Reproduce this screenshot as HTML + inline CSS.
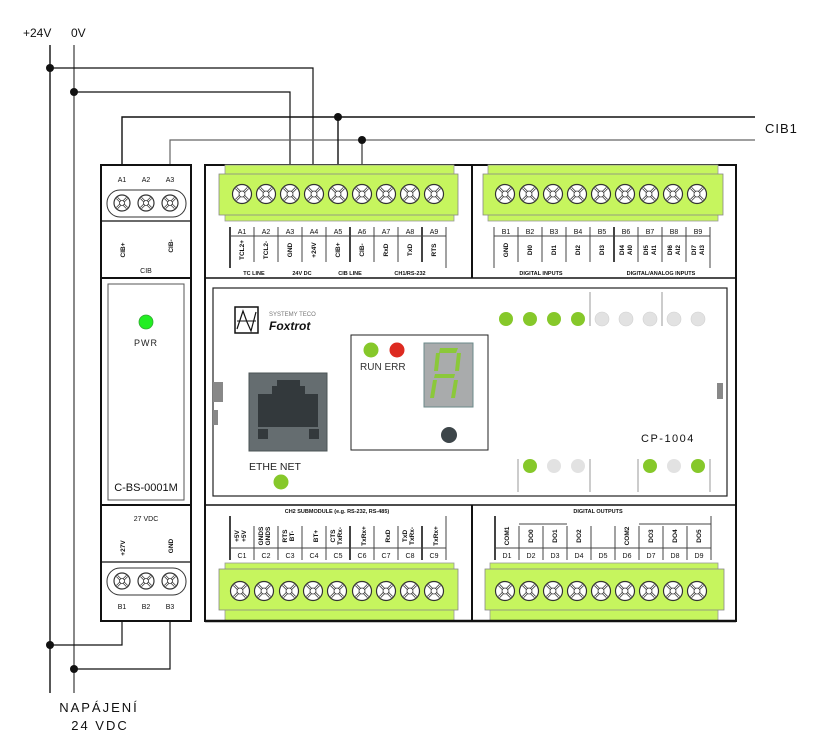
<!DOCTYPE html>
<html><head><meta charset="utf-8"><style>
html,body{margin:0;padding:0;background:#fff;}
svg{display:block;font-family:"Liberation Sans",sans-serif;}
.s{font-size:7px;fill:#111;}
.v{font-size:6.5px;fill:#111;font-weight:bold;}
</style></head><body>
<svg width="825" height="756" viewBox="0 0 825 756" xmlns="http://www.w3.org/2000/svg">
<defs>
<g id="sc"><circle r="9.5" fill="#fff" stroke="#333" stroke-width="1.2"/><path d="M-6,-6L6,6M6,-6L-6,6" stroke="#333" stroke-width="2.6"/><path d="M-6,-6L6,6M6,-6L-6,6" stroke="#fff" stroke-width="1"/><circle r="3" fill="#fff" stroke="#333" stroke-width="0.8"/></g>
<g id="sm"><circle r="8" fill="#fff" stroke="#333" stroke-width="1.2"/><path d="M-5,-5L5,5M5,-5L-5,5" stroke="#333" stroke-width="2.4"/><path d="M-5,-5L5,5M5,-5L-5,5" stroke="#fff" stroke-width="0.9"/><circle r="2.5" fill="#fff" stroke="#333" stroke-width="0.8"/></g>
</defs>
<!-- power labels and rails -->
<text x="23" y="37" font-size="12" fill="#111">+24V</text>
<text x="71" y="37" font-size="12" fill="#111">0V</text>
<line x1="50" y1="45" x2="50" y2="693" stroke="#111" stroke-width="1.4"/>
<line x1="74" y1="45" x2="74" y2="693" stroke="#111" stroke-width="1"/>
<polyline points="50,68 313,68 313,165" fill="none" stroke="#111" stroke-width="1.2"/>
<polyline points="74,92 290,92 290,165" fill="none" stroke="#111" stroke-width="1.2"/>
<polyline points="122,165 122,117 755,117" fill="none" stroke="#111" stroke-width="1.4"/>
<polyline points="170,165 170,140 755,140" fill="none" stroke="#666" stroke-width="1.2"/>
<line x1="338" y1="117" x2="338" y2="165" stroke="#111" stroke-width="1.4"/>
<line x1="362" y1="140" x2="362" y2="165" stroke="#333" stroke-width="1.2"/>
<circle cx="50" cy="68" r="4" fill="#111"/><circle cx="74" cy="92" r="4" fill="#111"/>
<circle cx="338" cy="117" r="4" fill="#111"/><circle cx="362" cy="140" r="4" fill="#111"/>
<text x="765" y="133" font-size="13" fill="#111" letter-spacing="1">CIB1</text>
<polyline points="122,621 122,645 50,645" fill="none" stroke="#111" stroke-width="1.2"/>
<polyline points="170,621 170,669 74,669" fill="none" stroke="#111" stroke-width="1.2"/>
<circle cx="50" cy="645" r="4" fill="#111"/><circle cx="74" cy="669" r="4" fill="#111"/>
<text x="99" y="712" font-size="13" fill="#111" text-anchor="middle" letter-spacing="2">NAPÁJENÍ</text>
<text x="100" y="730" font-size="13" fill="#111" text-anchor="middle" letter-spacing="2">24 VDC</text>

<!-- CIB module -->
<rect x="101" y="165" width="90" height="456" fill="#fff" stroke="#111" stroke-width="2"/>
<text class="s" x="122" y="182" text-anchor="middle">A1</text><text class="s" x="146" y="182" text-anchor="middle">A2</text><text class="s" x="170" y="182" text-anchor="middle">A3</text>
<rect x="107" y="190" width="79" height="27" rx="13" fill="#fff" stroke="#333"/>
<use href="#sm" x="122" y="203"/><use href="#sm" x="146" y="203"/><use href="#sm" x="170" y="203"/>
<line x1="101" y1="221" x2="191" y2="221" stroke="#111" stroke-width="1.2"/>
<text class="v" transform="translate(125,250) rotate(-90)" text-anchor="middle">CIB+</text>
<text class="v" transform="translate(173,246) rotate(-90)" text-anchor="middle">CIB-</text>
<text class="s" x="146" y="273" text-anchor="middle">CIB</text>
<line x1="101" y1="278" x2="191" y2="278" stroke="#111" stroke-width="2"/>
<rect x="108" y="284" width="76" height="216" fill="#fff" stroke="#555"/>
<circle cx="146" cy="322" r="7" fill="#22ee22" stroke="#3a3" stroke-width="0.8"/>
<text x="146" y="346" font-size="9" fill="#222" text-anchor="middle" letter-spacing="1">PWR</text>
<text x="146" y="491" font-size="11" fill="#111" text-anchor="middle">C-BS-0001M</text>
<line x1="101" y1="505" x2="191" y2="505" stroke="#111" stroke-width="2"/>
<text class="s" x="146" y="521" text-anchor="middle">27 VDC</text>
<text class="v" transform="translate(125,548) rotate(-90)" text-anchor="middle">+27V</text>
<text class="v" transform="translate(173,546) rotate(-90)" text-anchor="middle">GND</text>
<line x1="101" y1="562" x2="191" y2="562" stroke="#111" stroke-width="1.2"/>
<rect x="107" y="568" width="79" height="27" rx="13" fill="#fff" stroke="#333"/>
<use href="#sm" x="122" y="581"/><use href="#sm" x="146" y="581"/><use href="#sm" x="170" y="581"/>
<text class="s" x="122" y="609" text-anchor="middle">B1</text><text class="s" x="146" y="609" text-anchor="middle">B2</text><text class="s" x="170" y="609" text-anchor="middle">B3</text>

<!-- main unit -->
<rect x="205" y="165" width="531" height="456" fill="#fff" stroke="#111" stroke-width="2"/>
<line x1="472" y1="165" x2="472" y2="278" stroke="#111" stroke-width="2"/>
<line x1="205" y1="278" x2="736" y2="278" stroke="#111" stroke-width="1.5"/>
<line x1="205" y1="505" x2="736" y2="505" stroke="#111" stroke-width="1.5"/>
<line x1="472" y1="505" x2="472" y2="621" stroke="#111" stroke-width="2"/>
<!-- top terminals -->
<rect x="225" y="165" width="229" height="56" fill="#c6f55e" stroke="#999" stroke-width="0.8"/>
<rect x="219" y="174" width="239" height="41" fill="#c6f55e" stroke="#888" stroke-width="0.8"/>
<rect x="488" y="165" width="230" height="56" fill="#c6f55e" stroke="#999" stroke-width="0.8"/>
<rect x="483" y="174" width="240" height="41" fill="#c6f55e" stroke="#888" stroke-width="0.8"/>
<g>
<use href="#sc" x="242" y="194"/><use href="#sc" x="266" y="194"/><use href="#sc" x="290" y="194"/><use href="#sc" x="314" y="194"/><use href="#sc" x="338" y="194"/><use href="#sc" x="362" y="194"/><use href="#sc" x="386" y="194"/><use href="#sc" x="410" y="194"/><use href="#sc" x="434" y="194"/>
<use href="#sc" x="505" y="194"/><use href="#sc" x="529" y="194"/><use href="#sc" x="553" y="194"/><use href="#sc" x="577" y="194"/><use href="#sc" x="601" y="194"/><use href="#sc" x="625" y="194"/><use href="#sc" x="649" y="194"/><use href="#sc" x="673" y="194"/><use href="#sc" x="697" y="194"/>
</g>
<!-- top A labels -->
<g stroke="#444" stroke-width="1">
<line x1="230" y1="227" x2="230" y2="268" stroke-width="2"/><line x1="254" y1="227" x2="254" y2="262"/><line x1="278" y1="227" x2="278" y2="262"/><line x1="302" y1="227" x2="302" y2="262"/><line x1="326" y1="227" x2="326" y2="262"/><line x1="350" y1="227" x2="350" y2="262" stroke-width="2"/><line x1="374" y1="227" x2="374" y2="262"/><line x1="398" y1="227" x2="398" y2="262"/><line x1="422" y1="227" x2="422" y2="262" stroke-width="2"/><line x1="446" y1="227" x2="446" y2="268"/>
<line x1="230" y1="236" x2="446" y2="236"/>
</g>
<g class="s" text-anchor="middle">
<text x="242" y="234">A1</text><text x="266" y="234">A2</text><text x="290" y="234">A3</text><text x="314" y="234">A4</text><text x="338" y="234">A5</text><text x="362" y="234">A6</text><text x="386" y="234">A7</text><text x="410" y="234">A8</text><text x="434" y="234">A9</text>
</g>
<g class="v" text-anchor="middle">
<text transform="translate(244,250) rotate(-90)">TCL2+</text><text transform="translate(268,250) rotate(-90)">TCL2-</text><text transform="translate(292,250) rotate(-90)">GND</text><text transform="translate(316,250) rotate(-90)">+24V</text><text transform="translate(340,250) rotate(-90)">CIB+</text><text transform="translate(364,250) rotate(-90)">CIB-</text><text transform="translate(388,250) rotate(-90)">RxD</text><text transform="translate(412,250) rotate(-90)">TxD</text><text transform="translate(436,250) rotate(-90)">RTS</text>
</g>
<g font-size="5.5" font-weight="bold" fill="#111" text-anchor="middle">
<text x="254" y="275">TC LINE</text><text x="302" y="275">24V DC</text><text x="350" y="275">CIB LINE</text><text x="410" y="275">CH1/RS-232</text>
<text x="541" y="275">DIGITAL INPUTS</text><text x="661" y="275">DIGITAL/ANALOG INPUTS</text>
</g>
<!-- top B labels -->
<g stroke="#444" stroke-width="1">
<line x1="494" y1="227" x2="494" y2="268"/><line x1="518" y1="227" x2="518" y2="262"/><line x1="542" y1="227" x2="542" y2="262"/><line x1="566" y1="227" x2="566" y2="262"/><line x1="590" y1="227" x2="590" y2="262"/><line x1="614" y1="227" x2="614" y2="262" stroke-width="2"/><line x1="638" y1="227" x2="638" y2="262"/><line x1="662" y1="227" x2="662" y2="262"/><line x1="686" y1="227" x2="686" y2="262"/><line x1="710" y1="227" x2="710" y2="268"/>
<line x1="494" y1="236" x2="710" y2="236"/>
</g>
<g class="s" text-anchor="middle">
<text x="506" y="234">B1</text><text x="530" y="234">B2</text><text x="554" y="234">B3</text><text x="578" y="234">B4</text><text x="602" y="234">B5</text><text x="626" y="234">B6</text><text x="650" y="234">B7</text><text x="674" y="234">B8</text><text x="698" y="234">B9</text>
</g>
<g class="v" text-anchor="middle">
<text transform="translate(508,250) rotate(-90)">GND</text><text transform="translate(532,250) rotate(-90)">DI0</text><text transform="translate(556,250) rotate(-90)">DI1</text><text transform="translate(580,250) rotate(-90)">DI2</text><text transform="translate(604,250) rotate(-90)">DI3</text>
<text transform="translate(624,250) rotate(-90)">DI4</text><text transform="translate(632,250) rotate(-90)">AI0</text>
<text transform="translate(648,250) rotate(-90)">DI5</text><text transform="translate(656,250) rotate(-90)">AI1</text>
<text transform="translate(672,250) rotate(-90)">DI6</text><text transform="translate(680,250) rotate(-90)">AI2</text>
<text transform="translate(696,250) rotate(-90)">DI7</text><text transform="translate(704,250) rotate(-90)">AI3</text>
</g>

<!-- middle panel -->
<rect x="213" y="288" width="514" height="208" fill="#fff" stroke="#222" stroke-width="1.2"/>
<rect x="213" y="382" width="10" height="20" fill="#888"/><rect x="213" y="410" width="5" height="15" fill="#888"/>
<rect x="717" y="383" width="6" height="16" fill="#888"/>
<rect x="235" y="307" width="23" height="26" fill="#fff" stroke="#111" stroke-width="1.5"/>
<path d="M237,329 L243,311 L247,322 L251,331 L256,312" fill="none" stroke="#111" stroke-width="1.2"/>
<line x1="237" y1="321" x2="256" y2="321" stroke="#111" stroke-width="1"/>
<text x="269" y="316" font-size="6" fill="#777">SYSTEMY TECO</text>
<text x="269" y="330" font-size="12" font-weight="bold" font-style="italic" fill="#111">Foxtrot</text>
<rect x="249" y="373" width="78" height="78" fill="#656d70" stroke="#4b5456"/>
<path d="M258,394 L272,394 L272,386 L277,386 L277,380 L300,380 L300,386 L305,386 L305,394 L318,394 L318,427 L258,427 Z" fill="#33393c"/>
<rect x="258" y="429" width="10" height="10" fill="#33393c"/><rect x="309" y="429" width="10" height="10" fill="#33393c"/>
<text x="249" y="470" font-size="10.5" fill="#222">ETHE &#8203;NET</text>
<circle cx="281" cy="482" r="7.5" fill="#86c82a"/>
<rect x="351" y="335" width="137" height="115" fill="#fff" stroke="#222" stroke-width="1"/>
<circle cx="371" cy="350" r="7.5" fill="#86c82a"/><circle cx="397" cy="350" r="7.5" fill="#dd2a20"/>
<text x="360" y="370" font-size="10" fill="#333">RUN ERR</text>
<rect x="424" y="343" width="49" height="64" fill="#a9abac" stroke="#6b8a8a"/>
<g fill="#8bc83a">
<path d="M440,348 L458,348 L456,353 L439,353 Z"/>
<path d="M436,353 L440,353 L438,371 L434,371 Z"/>
<path d="M457,353 L461,353 L459,371 L455,371 Z"/>
<path d="M435,374 L455,374 L454,378 L434,378 Z"/>
<path d="M433,380 L437,380 L434,398 L430,398 Z"/>
<path d="M454,380 L458,380 L455,398 L451,398 Z"/>
</g>
<circle cx="449" cy="435" r="8" fill="#3d4549"/>
<text x="641" y="442" font-size="11" fill="#111" letter-spacing="1.5">CP-1004</text>
<g fill="#86c82a"><circle cx="506" cy="319" r="7"/><circle cx="530" cy="319" r="7"/><circle cx="554" cy="319" r="7"/><circle cx="578" cy="319" r="7"/></g>
<g fill="#e2e2e2" stroke="#d0d0d0" stroke-width="0.6"><circle cx="602" cy="319" r="7"/><circle cx="626" cy="319" r="7"/><circle cx="650" cy="319" r="7"/><circle cx="674" cy="319" r="7"/><circle cx="698" cy="319" r="7"/></g>
<g stroke="#999" stroke-width="1"><line x1="590" y1="292" x2="590" y2="326"/><line x1="662" y1="292" x2="662" y2="326"/>
<line x1="518" y1="459" x2="518" y2="492"/><line x1="590" y1="459" x2="590" y2="492"/><line x1="638" y1="459" x2="638" y2="492"/><line x1="710" y1="459" x2="710" y2="492"/></g>
<circle cx="530" cy="466" r="7" fill="#86c82a"/><circle cx="554" cy="466" r="7" fill="#e2e2e2"/><circle cx="578" cy="466" r="7" fill="#e2e2e2"/>
<circle cx="650" cy="466" r="7" fill="#86c82a"/><circle cx="674" cy="466" r="7" fill="#e2e2e2"/><circle cx="698" cy="466" r="7" fill="#86c82a"/>

<!-- bottom labels -->
<g font-size="5.5" font-weight="bold" fill="#111" text-anchor="middle">
<text x="337" y="513">CH2 SUBMODULE (e.g. RS-232, RS-485)</text><text x="598" y="513">DIGITAL OUTPUTS</text>
</g>
<g stroke="#444" stroke-width="1">
<line x1="230" y1="516" x2="230" y2="560" stroke-width="2"/><line x1="254" y1="526" x2="254" y2="560"/><line x1="278" y1="526" x2="278" y2="560"/><line x1="302" y1="526" x2="302" y2="560"/><line x1="326" y1="526" x2="326" y2="560"/><line x1="350" y1="526" x2="350" y2="560" stroke-width="2"/><line x1="374" y1="526" x2="374" y2="560"/><line x1="398" y1="526" x2="398" y2="560"/><line x1="422" y1="526" x2="422" y2="560" stroke-width="2"/><line x1="446" y1="516" x2="446" y2="560"/>
<line x1="230" y1="548" x2="446" y2="548"/>
<line x1="495" y1="516" x2="495" y2="560" stroke-width="2"/><line x1="519" y1="526" x2="519" y2="560"/><line x1="543" y1="526" x2="543" y2="560"/><line x1="567" y1="526" x2="567" y2="560"/><line x1="591" y1="526" x2="591" y2="560"/><line x1="615" y1="526" x2="615" y2="560"/><line x1="639" y1="526" x2="639" y2="560"/><line x1="663" y1="526" x2="663" y2="560"/><line x1="687" y1="526" x2="687" y2="560"/><line x1="711" y1="516" x2="711" y2="560"/>
<line x1="495" y1="548" x2="711" y2="548"/>
<polyline points="519,524 567,524" fill="none"/><polyline points="639,524 711,524" fill="none"/>
</g>
<g class="v" text-anchor="middle">
<text transform="translate(239,536) rotate(-90)">+5V</text><text transform="translate(246,536) rotate(-90)">+5V</text>
<text transform="translate(263,536) rotate(-90)">GNDS</text><text transform="translate(270,536) rotate(-90)">GNDS</text>
<text transform="translate(287,536) rotate(-90)">RTS</text><text transform="translate(294,536) rotate(-90)">BT-</text>
<text transform="translate(318,536) rotate(-90)">BT+</text>
<text transform="translate(335,536) rotate(-90)">CTS</text><text transform="translate(342,536) rotate(-90)">TxRx-</text>
<text transform="translate(366,536) rotate(-90)">TxRx+</text>
<text transform="translate(390,536) rotate(-90)">RxD</text>
<text transform="translate(407,536) rotate(-90)">TxD</text><text transform="translate(414,536) rotate(-90)">TxRx-</text>
<text transform="translate(438,536) rotate(-90)">TxRx+</text>
<text transform="translate(509,536) rotate(-90)">COM1</text><text transform="translate(533,536) rotate(-90)">DO0</text><text transform="translate(557,536) rotate(-90)">DO1</text><text transform="translate(581,536) rotate(-90)">DO2</text>
<text transform="translate(629,536) rotate(-90)">COM2</text><text transform="translate(653,536) rotate(-90)">DO3</text><text transform="translate(677,536) rotate(-90)">DO4</text><text transform="translate(701,536) rotate(-90)">DO5</text>
</g>
<g class="s" text-anchor="middle">
<text x="242" y="558">C1</text><text x="266" y="558">C2</text><text x="290" y="558">C3</text><text x="314" y="558">C4</text><text x="338" y="558">C5</text><text x="362" y="558">C6</text><text x="386" y="558">C7</text><text x="410" y="558">C8</text><text x="434" y="558">C9</text>
<text x="507" y="558">D1</text><text x="531" y="558">D2</text><text x="555" y="558">D3</text><text x="579" y="558">D4</text><text x="603" y="558">D5</text><text x="627" y="558">D6</text><text x="651" y="558">D7</text><text x="675" y="558">D8</text><text x="699" y="558">D9</text>
</g>
<!-- bottom terminals -->
<rect x="225" y="563" width="229" height="58" fill="#c6f55e" stroke="#999" stroke-width="0.8"/>
<rect x="219" y="569" width="239" height="41" fill="#c6f55e" stroke="#888" stroke-width="0.8"/>
<rect x="490" y="563" width="228" height="58" fill="#c6f55e" stroke="#999" stroke-width="0.8"/>
<rect x="485" y="569" width="239" height="41" fill="#c6f55e" stroke="#888" stroke-width="0.8"/>
<use href="#sc" x="240" y="591"/><use href="#sc" x="264" y="591"/><use href="#sc" x="289" y="591"/><use href="#sc" x="313" y="591"/><use href="#sc" x="337" y="591"/><use href="#sc" x="362" y="591"/><use href="#sc" x="386" y="591"/><use href="#sc" x="410" y="591"/><use href="#sc" x="434" y="591"/>
<use href="#sc" x="505" y="591"/><use href="#sc" x="529" y="591"/><use href="#sc" x="553" y="591"/><use href="#sc" x="577" y="591"/><use href="#sc" x="601" y="591"/><use href="#sc" x="625" y="591"/><use href="#sc" x="649" y="591"/><use href="#sc" x="673" y="591"/><use href="#sc" x="697" y="591"/>
<line x1="205" y1="621" x2="736" y2="621" stroke="#111" stroke-width="2.5"/>
</svg>
</body></html>
